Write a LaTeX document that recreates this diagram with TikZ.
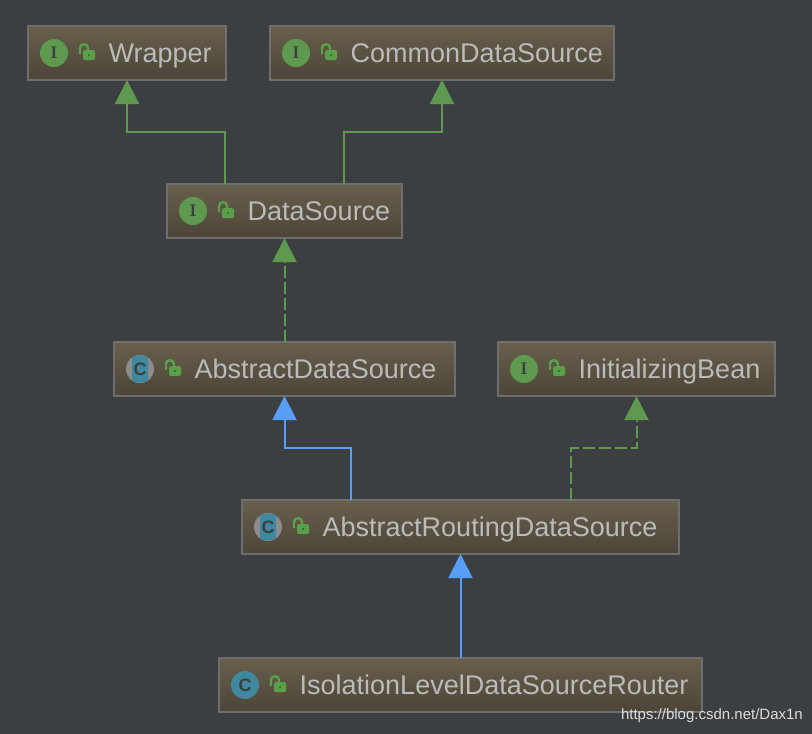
\documentclass[tikz,border=0pt]{standalone}
\usepackage{fontspec}
\setmainfont{Liberation Sans}
\usetikzlibrary{arrows.meta}
\definecolor{bgcol}{HTML}{3C3F41}
\definecolor{boxtop}{HTML}{685F4C}
\definecolor{boxbot}{HTML}{4C4538}
\definecolor{boxline}{HTML}{6E6E6E}
\definecolor{labelcol}{HTML}{BBBBBB}
\definecolor{greencol}{HTML}{5F9950}
\definecolor{lockcol}{HTML}{5AA048}
\definecolor{bluecol}{HTML}{589DF6}
\definecolor{tealcol}{HTML}{40889F}
\definecolor{ringcol}{HTML}{8C8C8C}
\tikzset{
  classbox/.style={draw=boxline, line width=2pt, top color=boxtop, bottom color=boxbot, minimum height=54pt, inner sep=0pt, outer sep=0pt, anchor=north west},
  classlabel/.style={text=labelcol, font=\fontsize{27}{27}\selectfont, inner sep=0pt, anchor=base west},
  iface/.style={circle, fill=greencol, minimum size=28pt, inner sep=0pt, text=bgcol, font=\fontfamily{lmr}\fontsize{17}{17}\bfseries\selectfont},
  concrete/.style={circle, fill=tealcol, minimum size=28pt, inner sep=0pt, text=bgcol, font=\fontsize{18}{18}\bfseries\selectfont},
  abstractc/.style={concrete, fill=none},
  inherit/.style={draw=#1, line width=2pt, -{Triangle[width=24pt,length=24pt,color=#1]}},
  implement/.style={inherit=greencol, dash pattern=on 12pt off 4pt},
  extend/.style={inherit=greencol},
  lockicon/.pic={
    \draw[lockcol, line width=2.4pt] (52,1) -- (52,-5) .. controls (52,-10) and (60,-10) .. (60,-5) -- (60,-2);
    \fill[lockcol, rounded corners=1.5pt] (55,-3) rectangle (67,7);
    \fill[bgcol!60!lockcol] (60,1) rectangle (62,3);
  },
  bandicon/.pic={
    \fill[ringcol] (26,0) circle (14pt);
    \fill[tealcol] (18,-11.5) .. controls (21,-14.3) and (31,-14.3) .. (34,-11.5) -- (34,11.5) .. controls (31,14.3) and (21,14.3) .. (18,11.5) -- cycle;
  }
}
\begin{document}
\begin{tikzpicture}[x=1pt, y=-1pt]
\useasboundingbox[fill=bgcol] (0,0) rectangle (812,734);

% boxes
\node[classbox, minimum width=198pt] (wrapper) at (28,26) {};
\node[classbox, minimum width=344pt] (common) at (270,26) {};
\node[classbox, minimum width=235pt] (dataSource) at (167,184) {};
\node[classbox, minimum width=341pt] (abstractDS) at (114,342) {};
\node[classbox, minimum width=277pt] (initBean) at (498,342) {};
\node[classbox, minimum width=437pt] (routingDS) at (242,500) {};
\node[classbox, minimum width=483pt] (isolation) at (219,658) {};

% icons
\pic at (abstractDS.west) {bandicon};
\pic at (routingDS.west) {bandicon};
\node[iface] (wrapperIcon) at ([xshift=26pt]wrapper.west) {I};
\node[iface] (commonIcon) at ([xshift=26pt]common.west) {I};
\node[iface] (dataSourceIcon) at ([xshift=26pt]dataSource.west) {I};
\node[abstractc] (abstractDSIcon) at ([xshift=26pt]abstractDS.west) {C};
\node[iface] (initBeanIcon) at ([xshift=26pt]initBean.west) {I};
\node[abstractc] (routingDSIcon) at ([xshift=26pt]routingDS.west) {C};
\node[concrete] (isolationIcon) at ([xshift=26pt]isolation.west) {C};

\pic at (wrapper.west) {lockicon};
\pic at (common.west) {lockicon};
\pic at (dataSource.west) {lockicon};
\pic at (abstractDS.west) {lockicon};
\pic at (initBean.west) {lockicon};
\pic at (routingDS.west) {lockicon};
\pic at (isolation.west) {lockicon};

% names
\node[classlabel] (wrapperText) at ([xshift=80.5pt,yshift=-9pt]wrapper.west) {Wrapper};
\node[classlabel] (commonText) at ([xshift=80.5pt,yshift=-9pt]common.west) {CommonDataSource};
\node[classlabel] (dataSourceText) at ([xshift=80.5pt,yshift=-9pt]dataSource.west) {DataSource};
\node[classlabel] (abstractDSText) at ([xshift=80.5pt,yshift=-9pt]abstractDS.west) {AbstractDataSource};
\node[classlabel] (initBeanText) at ([xshift=80.5pt,yshift=-9pt]initBean.west) {InitializingBean};
\node[classlabel] (routingDSText) at ([xshift=80.5pt,yshift=-9pt]routingDS.west) {AbstractRoutingDataSource};
\node[classlabel] (isolationText) at ([xshift=80.5pt,yshift=-9pt]isolation.west) {IsolationLevelDataSourceRouter};

% connectors
\draw[extend] ([xshift=-59.5pt]dataSource.north) -- ++(0,-52) -| (wrapper.south);
\draw[extend] ([xshift=59.5pt]dataSource.north) -- ++(0,-52) -| (common.south);
\draw[implement] (abstractDS.north) -- (dataSource.south);
\draw[implement] ([xshift=110.5pt]routingDS.north) -- ++(0,-52) -| (initBean.south);
\draw[inherit=bluecol] ([xshift=-109.5pt]routingDS.north) -- ++(0,-52) -| (abstractDS.south);
\draw[inherit=bluecol] (isolation.north) -- (routingDS.south);

\node[text=white!82!bgcol, font=\fontsize{15}{15}\selectfont, inner sep=0pt, anchor=base east] (watermark) at (803,719) {https://blog.csdn.net/Dax1n};
\end{tikzpicture}
\end{document}
